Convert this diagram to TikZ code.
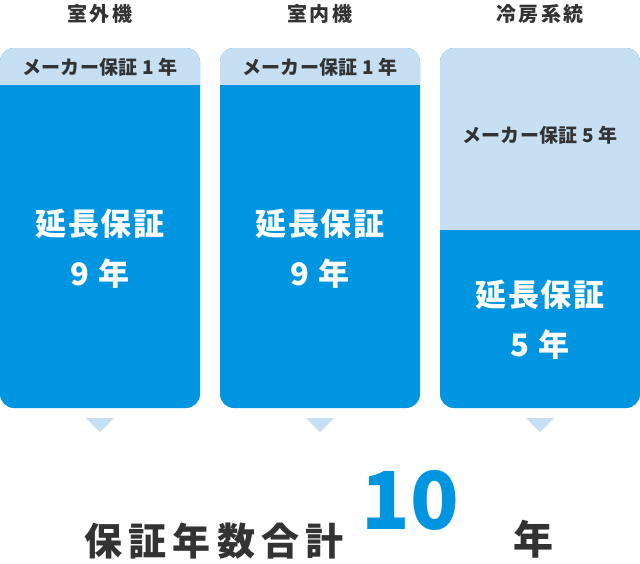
\documentclass[tikz,border=0pt]{standalone}
\usepackage{fontspec}
\setmainfont{Noto Sans CJK JP}
\usetikzlibrary{positioning}
\definecolor{hoshoblue}{HTML}{0095E0}
\definecolor{hoshopale}{HTML}{C6DFF2}
\definecolor{hoshotext}{HTML}{333333}
\tikzset{
  koumoku/.style={text=hoshotext, font=\bfseries\fontsize{20}{20}\selectfont\addfontfeature{LetterSpace=12}},
  maker/.style={text=hoshotext, font=\bfseries\fontsize{19}{19}\selectfont\addfontfeature{LetterSpace=2}},
  enchou/.style={text=white, font=\bfseries\fontsize{31}{50}\selectfont\addfontfeature{LetterSpace=5}, align=center},
  yajirushi/.style={fill=hoshopale},
}
\begin{document}
\begin{tikzpicture}[x=1pt, y=-1pt]
    \useasboundingbox (0,0) rectangle (640,563);

    % columns
    \foreach \xx/\name in {0/soto, 220/uchi}{
      \fill[hoshoblue, rounded corners=14] (\xx,48) rectangle ++(200,360);
      \begin{scope}
        \clip[rounded corners=14] (\xx,48) rectangle ++(200,360);
        \fill[hoshopale] (\xx,48) rectangle ++(200,37);
      \end{scope}
      \node[maker] (\name maker) at (\xx+100,67) {メーカー保証 1 年};
      \node[enchou] (\name enchou) at (\xx+100,249) {延長保証\\9 年};
      \fill[yajirushi] (\xx+86,418) -- (\xx+114,418) -- (\xx+100,432) -- cycle;
    }
    \fill[hoshoblue, rounded corners=14] (440,48) rectangle ++(200,360);
    \begin{scope}
      \clip[rounded corners=14] (440,48) rectangle ++(200,360);
      \fill[hoshopale] (440,48) rectangle ++(200,182);
    \end{scope}
    \node[maker] (reibomaker) at (540,135) {メーカー保証 5 年};
    \node[enchou] (reiboenchou) at (540,320) {延長保証\\5 年};
    \fill[yajirushi] (526,418) -- (554,418) -- (540,432) -- cycle;

    % headings
    \node[koumoku] (soto) at (100,14) {室外機};
    \node[koumoku] (uchi) at (320,14) {室内機};
    \node[koumoku] (reibo) at (540,14) {冷房系統};

    % total
    \node[text=hoshotext, font=\bfseries\fontsize{38}{38}\selectfont\addfontfeature{LetterSpace=16}] (goukei) at (214,541) {保証年数合計};
    \node[text=hoshoblue, font=\bfseries\fontsize{80}{80}\selectfont] (juu) at (410,500) {10};
    \node[text=hoshotext, font=\bfseries\fontsize{40}{40}\selectfont] (nen) at (533,539) {年};
\end{tikzpicture}
\end{document}
